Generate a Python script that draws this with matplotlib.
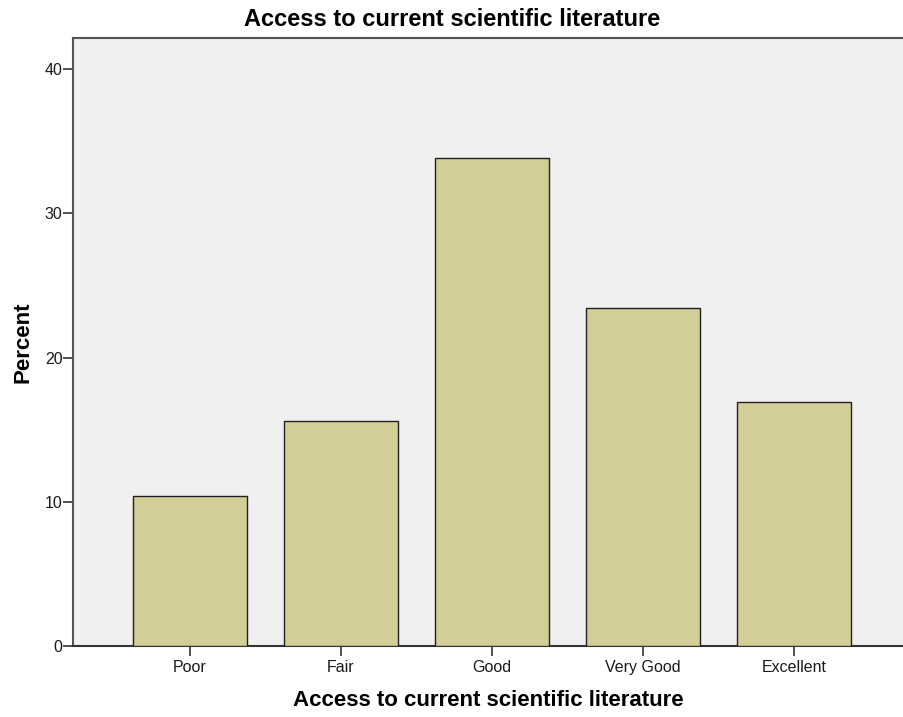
import matplotlib
matplotlib.use("Agg")
import matplotlib.pyplot as plt

plt.rcParams['font.family'] = ['Liberation Sans', 'DejaVu Sans']

categories = ["Poor", "Fair", "Good", "Very Good", "Excellent"]
percent = [10.4, 15.6, 33.8, 23.4, 16.9]
yticks = [0, 10, 20, 30, 40]

fig = plt.figure(figsize=(9.04, 7.17), dpi=100)
ax = fig.add_axes([73/904, 71/717, 1 - 73/904, (646-38)/717])
ax.set_facecolor('#F0F0F0')

x = list(range(len(categories)))
ax.bar(x, percent, width=0.755, color='#D3CE98', edgecolor='#202020', linewidth=1.0, zorder=3)

ax.set_xlim(-0.775, 4.73)
ax.set_ylim(0, 42.15)
ax.set_xticks(x)
ax.set_xticklabels(categories, fontsize=11.5, color='#1a1a1a')
ax.set_yticks(yticks)
ax.set_yticklabels([str(v) for v in yticks], fontsize=11.5, color='#1a1a1a')

ax.spines['right'].set_visible(False)
for s in ['left', 'bottom', 'top']:
    ax.spines[s].set_color('#555555')
    ax.spines[s].set_linewidth(1.5)
ax.spines['bottom'].set_color('#333333')
ax.tick_params(axis='both', length=7, width=1.2, color='#333333')
ax.tick_params(axis='x', pad=3)
ax.tick_params(axis='y', pad=0.5)

fig.text(0.5, 1 - 20/717, "Access to current scientific literature", fontsize=17,
         fontweight='bold', ha='center', va='center')
ax.set_xlabel("Access to current scientific literature", fontsize=16, fontweight='bold', labelpad=11)
ax.set_ylabel("Percent", fontsize=16, fontweight='bold', labelpad=8)

fig.savefig("out.png", dpi=100)
